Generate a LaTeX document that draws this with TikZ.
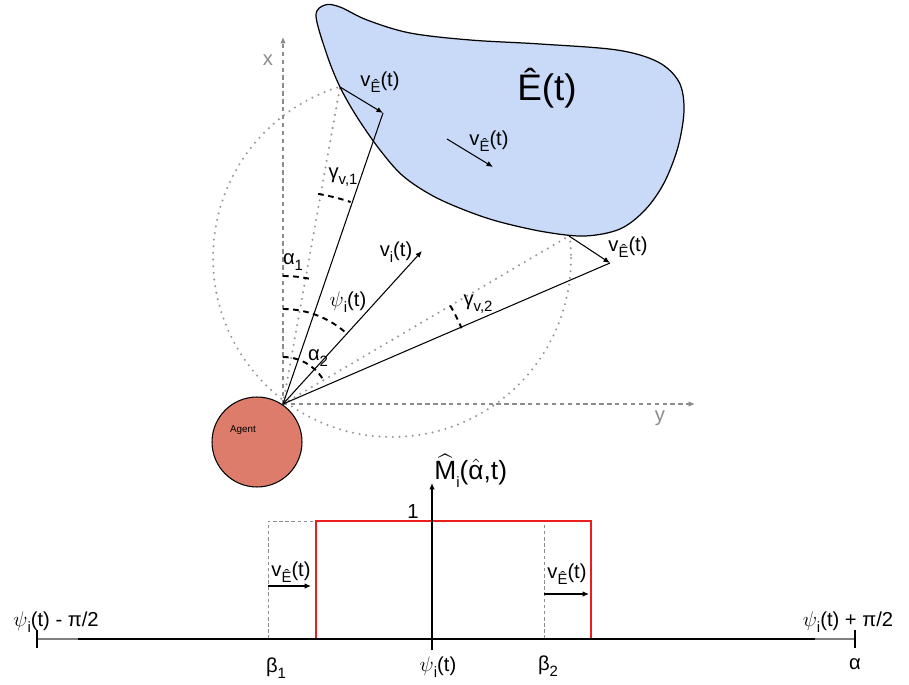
\documentclass[tikz,border=0pt]{standalone}
\usepackage{fontspec}
\setmainfont{Liberation Sans}
\usepackage{amsmath}
\usetikzlibrary{arrows.meta}

\definecolor{blobblue}{RGB}{201,218,248}
\definecolor{agentred}{RGB}{221,124,107}
\definecolor{axisgray}{RGB}{140,140,140}
\definecolor{dotgray}{RGB}{150,150,150}
\definecolor{baseline}{RGB}{64,64,64}
\definecolor{boxred}{RGB}{235,30,30}

\newcommand{\lsub}[1]{\raisebox{-0.6ex}{\fontsize{8.5}{9}\selectfont #1}}
\newcommand{\vE}{v\lsub{Ê}(t)}
\newcommand{\psit}{$\psi$\lsub{i}(t)}

\begin{document}
\begin{tikzpicture}[x=0.02cm, y=-0.02cm, every node/.style={font=\fontsize{11.5}{13}\selectfont, inner sep=0pt},
    vec/.style={line width=0.6pt, -{Latex[length=1.3mm, width=1.1mm]}},
    ray/.style={line width=0.6pt},
    frameaxis/.style={axisgray, line width=0.6pt, dash pattern=on 2.5pt off 2pt, -{Latex[length=1.3mm, width=1.1mm]}},
    guide/.style={dotgray, line width=1.3pt, dash pattern=on 0pt off 3.8pt, line cap=round},
    anglearc/.style={line width=1.1pt, dash pattern=on 3.2pt off 2.6pt},
    hint/.style={axisgray, line width=0.5pt, dash pattern=on 2pt off 1.5pt}]
    \useasboundingbox (0,0) rectangle (909,685);

    \coordinate (O) at (283,404);
    \coordinate (C) at (392,258);
    \coordinate (T1) at (340,87);
    \coordinate (T2) at (569,236);
    \coordinate (A1) at (383,113);
    \coordinate (A2) at (610,263);
    \coordinate (Vi) at (422,251);
    \coordinate (E0) at (447,139);
    \coordinate (E1) at (493,167);
    \coordinate (xend) at (283,37);
    \coordinate (yend) at (695,404);

    \draw[guide] (C) circle[radius=179];
    \draw[guide] (O) -- (T1);
    \draw[guide] (O) -- (T2);
    \draw[frameaxis] (O) -- (xend);
    \draw[frameaxis] (O) -- (yend);

    \draw[fill=blobblue, line width=0.7pt] plot[smooth cycle, tension=0.55] coordinates {
        (316,16) (325,5) (340,7) (367,20) (410,33) (470,40) (540,44) (617,50) (658,62) (679,82)
        (684,110) (678,147) (664,183) (645,210) (620,229) (585,236) (545,232) (500,222) (467,211)
        (433,196) (403,176) (380,150) (357,117) (340,87) (327,55)};

    \draw[vec] (T1) -- (A1);
    \draw[vec] (T2) -- (A2);
    \draw[vec] (E0) -- (E1);
    \draw[ray] (O) -- (A1);
    \draw[ray] (O) -- (A2);
    \draw[vec] (O) -- (Vi);

    \draw[anglearc] (O) ++(-90:128) arc[start angle=-90, end angle=-78, radius=128];
    \draw[anglearc] (O) ++(-90:95) arc[start angle=-90, end angle=-49, radius=95];
    \draw[anglearc] (O) ++(-90:47) arc[start angle=-90, end angle=-33, radius=47];
    \draw[anglearc] (O) ++(-80.5:213) arc[start angle=-80.5, end angle=-71.5, radius=213];
    \draw[anglearc] (O) ++(-30.5:194) arc[start angle=-30.5, end angle=-23, radius=194];

    \node[circle, draw, line width=0.6pt, fill=agentred, minimum size=1.8cm] (agent) at (257,442) {};
    \node[font=\fontsize{5.6}{7}\selectfont] (agentlbl) at (243,430) {Agent};

    \node[text=axisgray] (xlbl) at (268,60) {x};
    \node[text=axisgray] (ylbl) at (660,418) {y};
    \node[font=\fontsize{21}{24}\selectfont] (Elbl) at (547,88) {Ê(t)};
    \node (vEtop) at (380,82) {\vE};
    \node (vEin) at (489,141) {\vE};
    \node (vEright) at (628,247) {\vE};
    \node (gamma1) at (343,177) {γ\lsub{v,1}};
    \node (vilbl) at (396,252) {v\lsub{i}(t)};
    \node (alpha1) at (293,262) {α\lsub{1}};
    \node (psilbl) at (348,302) {\psit};
    \node (gamma2) at (478,304) {γ\lsub{v,2}};
    \node (alpha2) at (318,358) {α\lsub{2}};

    \coordinate (L) at (37,639);
    \coordinate (R) at (855,639);
    \coordinate (Lin) at (78,639);
    \coordinate (Rin) at (815,639);
    \coordinate (Mbot) at (432,650);
    \coordinate (Mtop) at (432,483);
    \coordinate (B1) at (268,639);
    \coordinate (B2) at (544,639);

    \draw[hint] (B1) -- (268,521) -- (316,521);
    \draw[hint] (B2) -- (544,521);
    \draw[boxred, line width=0.6pt] (316,639) rectangle (591,521);
    \draw[gray, line width=0.6pt] (L) -- (R);
    \draw[baseline, line width=1.2pt] (Lin) -- (Rin);
    \draw[line width=0.6pt] (37,630) -- (37,648);
    \draw[line width=0.6pt] (855,630) -- (855,648);
    \draw[vec] (Mbot) -- (Mtop);
    \draw[vec] (268,586) -- (311,586);
    \draw[vec] (544,594) -- (589,594);

    \node[font=\fontsize{15}{17}\selectfont, anchor=west] (Mlbl) at (434,471) {$\widehat{\text{M}}$\lsub{i}($\hat{\text{α}}$,t)};
    \node (one) at (413,512) {1};
    \node (vEleft) at (291,572) {\vE};
    \node (vEshift) at (567,574) {\vE};
    \node (beta1) at (276,668) {β\lsub{1}};
    \node (psimid) at (438,667) {\psit};
    \node (beta2) at (548,666) {β\lsub{2}};
    \node (alphaend) at (855,664) {α};
    \node (lowlbl) at (56,622) {\psit{} - π/2};
    \node (highlbl) at (848,622) {\psit{} + π/2};
\end{tikzpicture}
\end{document}
